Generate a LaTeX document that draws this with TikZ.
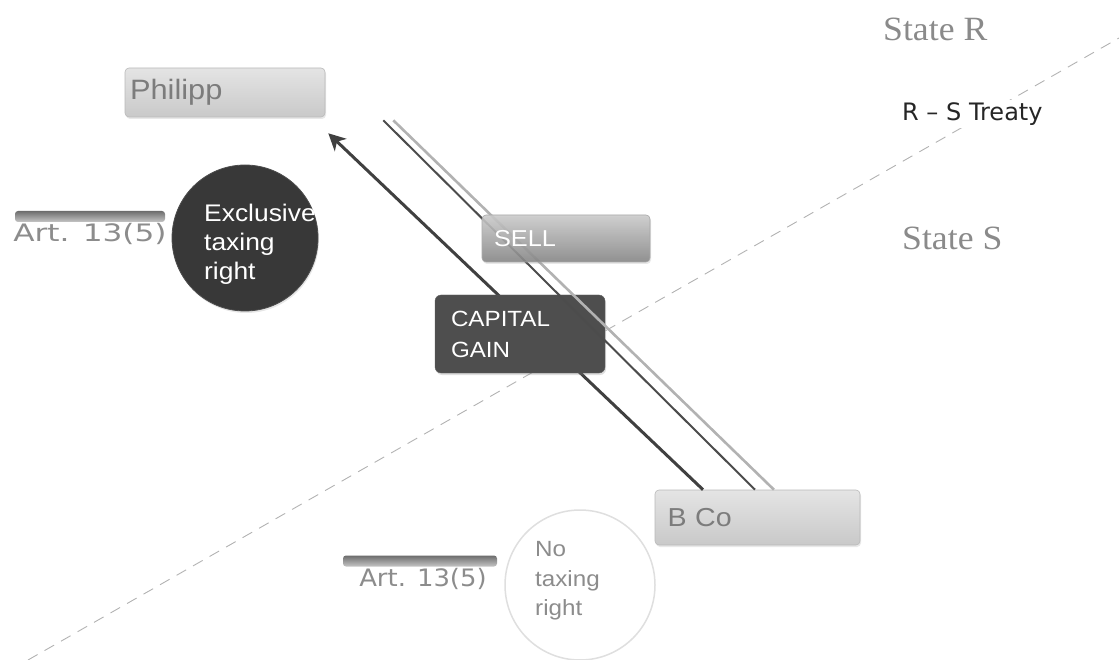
\documentclass[tikz,border=0pt]{standalone}
\usepackage{fontspec}
\setmainfont{Liberation Sans}[FakeStretch=1.1]
\newfontfamily\stateface{Liberation Serif}[FakeStretch=1.05]
\newfontfamily\treatyface{DejaVu Sans}
\usetikzlibrary{arrows.meta,calc,shadows}

\definecolor{boxlight}{HTML}{C9C9C9}
\definecolor{boxlighttop}{HTML}{E4E4E4}
\definecolor{boxtext}{HTML}{7C7C7C}
\definecolor{sellgrey}{HTML}{858585}
\definecolor{gaingrey}{HTML}{4E4E4E}
\definecolor{discdark}{HTML}{383838}
\definecolor{statetext}{HTML}{8A8A8A}

\tikzset{
  lightbox/.style={rectangle, rounded corners=4pt, top color=boxlighttop,
    bottom color=boxlight, draw=gray!55, line width=0.6pt,
    drop shadow={opacity=0.18, shadow xshift=1pt, shadow yshift=-2pt},
    text=boxtext, align=left, inner sep=0pt},
  sellbox/.style={rectangle, rounded corners=4pt, top color=gray!40,
    bottom color=sellgrey, draw=gray!70, line width=0.6pt, fill opacity=0.88,
    drop shadow={opacity=0.18, shadow xshift=1pt, shadow yshift=-2pt},
    text=white, text opacity=1, font=\fontsize{23}{24}\selectfont, align=left, inner sep=0pt},
  gainbox/.style={rectangle, rounded corners=6pt, fill=gaingrey, draw=gray!75!black,
    drop shadow={opacity=0.25, shadow xshift=1pt, shadow yshift=-2pt},
    text=white, font=\fontsize{22}{31}\selectfont, align=left, inner sep=0pt},
  artbar/.style={rectangle, rounded corners=3pt, top color=gray!85!black,
    bottom color=gray!45, draw=none, inner sep=0pt},
  arttext/.style={text=gray!90, font=\treatyface\fontsize{24}{24}\selectfont, inner sep=0pt},
  darkdisc/.style={circle, fill=discdark, draw=gray!60!black, line width=0.8pt,
    minimum size=146pt, inner sep=0pt,
    drop shadow={opacity=0.2, shadow xshift=1pt, shadow yshift=-2pt}},
  palediscs/.style={circle, fill=white, draw=gray!25, line width=1.5pt,
    minimum size=150pt, inner sep=0pt},
  disctext/.style={align=left, inner sep=0pt},
  statelabel/.style={text=statetext, font=\stateface\fontsize{34}{36}\selectfont, inner sep=0pt},
  treatylabel/.style={text=black!85, font=\treatyface\fontsize{24}{26}\selectfont,
    fill=white, inner sep=3pt},
  border/.style={draw=gray!60, line width=0.9pt, dash pattern=on 11pt off 8pt},
  gainarrow/.style={draw=black!75, line width=3pt,
    -{Stealth[length=17pt, width=17pt, inset=5pt]}},
  sellline/.style={draw=black!70, line width=2pt},
  sellshade/.style={draw=gray!60, line width=2.6pt}
}

\begin{document}
\begin{tikzpicture}[x=1pt, y=-1pt]
  \useasboundingbox (0,0) rectangle (1119,660);

  % treaty border between the two states
  \coordinate (borderlow) at (28,660);
  \coordinate (borderhigh) at (1119,38);
  \draw[border] (borderlow) -- (borderhigh);

  % parties
  \node[lightbox, minimum width=200pt, minimum height=49pt, text width=190pt,
    font=\fontsize{28}{30}\selectfont]
    (philipp) at (225,92.5) {Philipp};
  \node[lightbox, minimum width=205pt, minimum height=55pt, text width=180pt,
    font=\fontsize{26}{28}\selectfont]
    (bco) at (757.5,517.5) {B Co};

  % capital gain flowing back to the resident
  \draw[gainarrow] ($(bco.north west)!0.235!(bco.north east)$)
    -- ($(philipp.south east)+(3,16)$);

  \node[gainbox, minimum width=170pt, minimum height=78pt, text width=138pt]
    (gain) at (520,334) {CAPITAL\\GAIN};

  % the sale of the shares
  \draw[sellline] ($(philipp.south east)+(58,3)$)
    -- ($(bco.north west)!0.488!(bco.north east)$);
  \draw[sellshade] ($(philipp.south east)+(68,3)$)
    -- ($(bco.north west)!0.58!(bco.north east)$);

  \node[sellbox, minimum width=168pt, minimum height=47pt, text width=144pt]
    (sell) at (566,238.5) {SELL};

  % residence state: exclusive right
  \node[artbar, minimum width=150pt, minimum height=11pt] (artbarR) at (90,216.5) {};
  \node[arttext, anchor=north, xscale=1.3] (artR) at ($(artbarR.south)+(0,1)$) {Art. 13(5)};
  \node[darkdisc] (exclusive) at (245,238) {};
  \node[disctext, text=white, anchor=west, font=\fontsize{24}{29}\selectfont]
    (exclusivetext) at (204,244) {Exclusive\\taxing\\right};

  % source state: no right
  \node[artbar, minimum width=154pt, minimum height=11pt] (artbarS) at (420,561) {};
  \node[arttext, anchor=north, xscale=1.08] (artS) at ($(artbarS.south)+(3,1)$) {Art. 13(5)};
  \node[palediscs] (notaxing) at (580,585) {};
  \node[disctext, text=gray!90, anchor=west, font=\fontsize{22}{29.5}\selectfont]
    (notaxingtext) at (535,581) {No\\taxing\\right};

  % states and treaty
  \node[statelabel, anchor=west] (stateR) at (883,29) {State R};
  \node[statelabel, anchor=west] (stateS) at (902,238) {State S};
  \node[treatylabel, anchor=west] (treaty) at (899,114) {R – S Treaty};
\end{tikzpicture}
\end{document}
